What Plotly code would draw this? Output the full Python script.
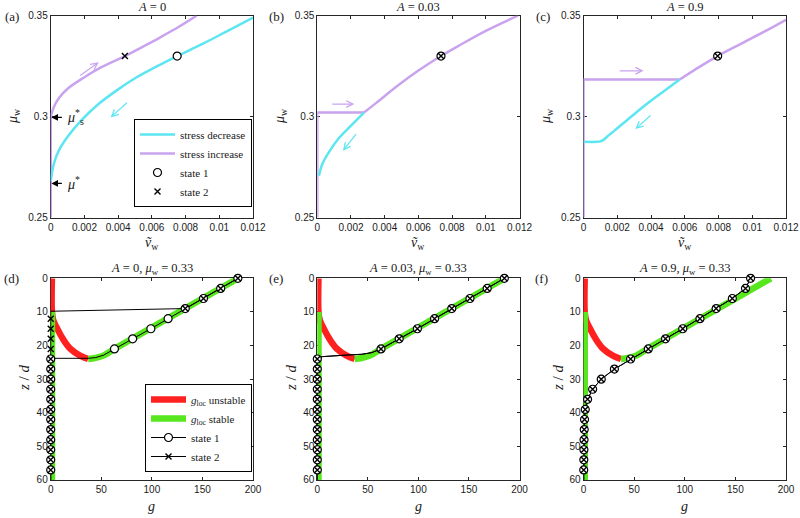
import plotly.graph_objects as go

# ================= DATA =================
# --- top row: mu_w versus v_w ---
a_inc_line_v, a_inc_line_mu = [0, 0], [0.25, 0.300]
a_inc_v = [0, 0.0002, 0.0005, 0.001, 0.002, 0.003, 0.0044, 0.0055, 0.0065, 0.0076, 0.00865]
a_inc_mu = [0.300, 0.305, 0.3093, 0.3138, 0.3195, 0.3245, 0.330, 0.3348, 0.3393, 0.3445, 0.350]
a_dec_v = [0, 0.0002, 0.0005, 0.001, 0.0018, 0.0028, 0.004, 0.005, 0.0062, 0.0075, 0.009, 0.0105, 0.012]
a_dec_mu = [0.268, 0.277, 0.2835, 0.290, 0.298, 0.306, 0.3135, 0.319, 0.3245, 0.330, 0.336, 0.3425, 0.349]
a_s1_v, a_s1_mu = [0.0075], [0.33]
a_s2_v, a_s2_mu = [0.0044], [0.33]

b_inc_line_v, b_inc_line_mu = [0, 0, 0.00277], [0.25, 0.302, 0.302]
b_inc_v = [0.00277, 0.0035, 0.0048, 0.006, 0.00734, 0.0085, 0.010, 0.0119]
b_inc_mu = [0.302, 0.3068, 0.3155, 0.3228, 0.330, 0.3356, 0.3425, 0.350]
b_dec_v = [0.00277, 0.002, 0.0013, 0.0007, 0.0003, 0.0001]
b_dec_mu = [0.302, 0.2955, 0.2895, 0.2825, 0.2765, 0.2707]
b_s1_v, b_s1_mu = [0.00734], [0.33]
b_s2_v, b_s2_mu = [0.00734], [0.33]

c_inc_line_v, c_inc_line_mu = [0, 0, 0.0057], [0.25, 0.3184, 0.3184]
c_inc_v = [0.0057, 0.0068, 0.00795, 0.0095, 0.0108, 0.012]
c_inc_mu = [0.3184, 0.3243, 0.330, 0.3368, 0.3425, 0.348]
c_dec_v = [0.0057, 0.0048, 0.0038, 0.0028, 0.0018, 0.0015, 0.0012, 0.001, 0.0008, 0]
c_dec_mu = [0.3184, 0.3128, 0.3066, 0.2998, 0.2928, 0.2908, 0.2886, 0.2877, 0.2875, 0.2875]
c_s1_v, c_s1_mu = [0.00795], [0.33]
c_s2_v, c_s2_mu = [0.00795], [0.33]

# --- bottom row: g versus z/d ---
gloc_unstable_g = [1.2, 1.2, 2.5, 6.5, 12, 19.5, 29, 37]
gloc_unstable_z = [0, 10, 12.5, 15, 18, 21, 23, 24]
gloc_stable_g = [1.2, 1.2, None, 37, 44, 52, 63, 185]
gloc_stable_z = [10, 60, None, 24, 23.7, 23.0, 21.0, 0]

marker_z = [0, 3, 6, 9, 12, 15, 18, 21, 24, 27, 30, 33, 36, 39, 42, 45, 48, 51, 54, 57]

d_s1_g = [185, 168, 151, 133, 116, 99, 81, 63, 52, 44, 37, 0, 0]
d_s1_z = [0, 3, 6, 9, 12, 15, 18, 21, 22.9, 23.6, 23.8, 23.8, 60]
d_s2_g = [185, 168, 151, 133, 0, 0]
d_s2_z = [0, 3, 6, 9, 9.8, 60]
d_s1_mk_g = [185, 168, 151, 133, 116, 99, 81, 63, 0, 0, 0, 0, 0, 0, 0, 0, 0, 0, 0, 0]
d_s2_mk_g = [185, 168, 151, 133, 0, 0, 0, 0, 0, 0, 0, 0, 0, 0, 0, 0, 0, 0, 0, 0]

e_line_g = [185, 168, 151, 133, 116, 99, 81, 63, 54, 44, 31, 15, 5, 1, 0, 0]
e_line_z = [0, 3, 6, 9, 12, 15, 18, 21, 22.1, 22.6, 22.8, 23.0, 23.3, 23.8, 24, 60]
e_mk_g = [185, 168, 151, 133, 116, 99, 81, 63, 0, 0, 0, 0, 0, 0, 0, 0, 0, 0, 0, 0]

f_line_g = [165, 160, 147, 131, 115, 98, 81, 64, 46.5, 30.5, 17.5, 9, 4, 1.7, 1, 0.7, 0.5, 0.4, 0.3, 0.2, 0.2]
f_line_z = [0, 3, 6, 9, 12, 15, 18, 21, 24, 27, 30, 33, 36, 39, 42, 45, 48, 51, 54, 57, 60]
f_mk_g = [165, 160, 147, 131, 115, 98, 81, 64, 46.5, 30.5, 17.5, 9, 4, 1.7, 1, 0.7, 0.5, 0.4, 0.3, 0.2]

top_xticks = [0, 0.002, 0.004, 0.006, 0.008, 0.01, 0.012]
top_xticktext = ["0", "0.002", "0.004", "0.006", "0.008", "0.01", "0.012"]
top_yticks = [0.25, 0.3, 0.35]
top_yticktext = ["0.25", "0.3", "0.35"]
bot_xticks = [0, 50, 100, 150, 200]
bot_yticks = [0, 10, 20, 30, 40, 50, 60]

top_titles = ["<i>A</i> = 0", "<i>A</i> = 0.03", "<i>A</i> = 0.9"]
bot_titles = ["<i>A</i> = 0, <i>μ</i><sub>w</sub> = 0.33",
              "<i>A</i> = 0.03, <i>μ</i><sub>w</sub> = 0.33",
              "<i>A</i> = 0.9, <i>μ</i><sub>w</sub> = 0.33"]
panel_labels = ["(a)", "(b)", "(c)", "(d)", "(e)", "(f)"]

# ================= STYLE =================
CYAN = "#5CE6F2"
PURPLE = "#C9A3EE"
RED = "#FF2020"
GREEN = "#58E61E"
SERIF = "Liberation Serif"
SANS = "Liberation Sans"
TXT = "#1a1a1a"

col_dom = [[0.0634, 0.3163], [0.3966, 0.6494], [0.7294, 0.9825]]
row_dom = [[0.5801, 0.9697], [0.0734, 0.4627]]

fig = go.Figure()


def ax(n):
    return ("x" if n == 1 else f"x{n}"), ("y" if n == 1 else f"y{n}")


def s1_marker():
    return dict(symbol="circle", size=8, color="white", line=dict(color="black", width=1.2))


def s2_marker():
    return dict(symbol="x-thin", size=6, color="black", line=dict(color="black", width=1.4))


# ---- top row traces ----
top_sets = [
    (a_inc_line_v, a_inc_line_mu, a_inc_v, a_inc_mu, a_dec_v, a_dec_mu, a_s1_v, a_s1_mu, a_s2_v, a_s2_mu),
    (b_inc_line_v, b_inc_line_mu, b_inc_v, b_inc_mu, b_dec_v, b_dec_mu, b_s1_v, b_s1_mu, b_s2_v, b_s2_mu),
    (c_inc_line_v, c_inc_line_mu, c_inc_v, c_inc_mu, c_dec_v, c_dec_mu, c_s1_v, c_s1_mu, c_s2_v, c_s2_mu),
]
for i, (lv, lm, iv, im, dv, dm, s1v, s1m, s2v, s2m) in enumerate(top_sets):
    xa, ya = ax(i + 1)
    show = (i == 0)
    fig.add_trace(go.Scatter(x=lv, y=lm, mode="lines", line=dict(color=PURPLE, width=2.5),
                             showlegend=False, xaxis=xa, yaxis=ya))
    fig.add_trace(go.Scatter(x=iv, y=im, mode="lines", line=dict(color=PURPLE, width=2.5, shape="spline"),
                             name="stress increase", showlegend=show, legend="legend", legendrank=2,
                             xaxis=xa, yaxis=ya))
    fig.add_trace(go.Scatter(x=dv, y=dm, mode="lines", line=dict(color=CYAN, width=2.5, shape="spline"),
                             name="stress decrease", showlegend=show, legend="legend", legendrank=1,
                             xaxis=xa, yaxis=ya))
    fig.add_trace(go.Scatter(x=s1v, y=s1m, mode="markers", marker=s1_marker(), cliponaxis=False,
                             name="state 1", showlegend=show, legend="legend", legendrank=3,
                             xaxis=xa, yaxis=ya))
    fig.add_trace(go.Scatter(x=s2v, y=s2m, mode="markers", marker=s2_marker(), cliponaxis=False,
                             name="state 2", showlegend=show, legend="legend", legendrank=4,
                             xaxis=xa, yaxis=ya))

# ---- bottom row traces ----
bot_sets = [
    (d_s1_g, d_s1_z, d_s2_g, d_s2_z, d_s1_mk_g, d_s2_mk_g),
    (e_line_g, e_line_z, e_line_g, e_line_z, e_mk_g, e_mk_g),
    (f_line_g, f_line_z, f_line_g, f_line_z, f_mk_g, f_mk_g),
]
for i, (l1g, l1z, l2g, l2z, m1g, m2g) in enumerate(bot_sets):
    xa, ya = ax(i + 4)
    fig.add_trace(go.Scatter(x=gloc_unstable_g, y=gloc_unstable_z, mode="lines",
                             line=dict(color=RED, width=6.5, shape="spline"), showlegend=False,
                             xaxis=xa, yaxis=ya))
    fig.add_trace(go.Scatter(x=gloc_stable_g, y=gloc_stable_z, mode="lines",
                             line=dict(color=GREEN, width=6.5, shape="spline"), showlegend=False,
                             xaxis=xa, yaxis=ya))
    fig.add_trace(go.Scatter(x=l1g, y=l1z, mode="lines", line=dict(color="black", width=1),
                             showlegend=False, xaxis=xa, yaxis=ya))
    fig.add_trace(go.Scatter(x=l2g, y=l2z, mode="lines", line=dict(color="black", width=1),
                             showlegend=False, xaxis=xa, yaxis=ya))
    fig.add_trace(go.Scatter(x=m1g, y=marker_z, mode="markers", marker=s1_marker(), cliponaxis=False,
                             showlegend=False, xaxis=xa, yaxis=ya))
    fig.add_trace(go.Scatter(x=m2g, y=marker_z, mode="markers", marker=s2_marker(), cliponaxis=False,
                             showlegend=False, xaxis=xa, yaxis=ya))

# legend entries for bottom row (legend-only samples)
fig.add_trace(go.Scatter(x=[None], y=[None], mode="lines", line=dict(color=RED, width=6.5),
                         name="<i>g</i><sub>loc</sub> unstable", legend="legend2", legendrank=1,
                         xaxis="x4", yaxis="y4"))
fig.add_trace(go.Scatter(x=[None], y=[None], mode="lines", line=dict(color=GREEN, width=6.5),
                         name="<i>g</i><sub>loc</sub> stable", legend="legend2", legendrank=2,
                         xaxis="x4", yaxis="y4"))
fig.add_trace(go.Scatter(x=[None], y=[None], mode="lines+markers", line=dict(color="black", width=1),
                         marker=s1_marker(), name="state 1", legend="legend2", legendrank=3,
                         xaxis="x4", yaxis="y4"))
fig.add_trace(go.Scatter(x=[None], y=[None], mode="lines+markers", line=dict(color="black", width=1),
                         marker=s2_marker(), name="state 2", legend="legend2", legendrank=4,
                         xaxis="x4", yaxis="y4"))

# ---- axes ----
common = dict(showline=True, mirror="ticks", linecolor="#262626", linewidth=1, ticks="inside",
              ticklen=3, tickcolor="#262626", showgrid=False, zeroline=False, automargin=False,
              layer="below traces", tickfont=dict(family=SANS, size=10, color=TXT))
layout = {}
for r in range(2):
    for c in range(3):
        n = r * 3 + c + 1
        kx = "xaxis" if n == 1 else f"xaxis{n}"
        ky = "yaxis" if n == 1 else f"yaxis{n}"
        if r == 0:
            layout[kx] = dict(common, domain=col_dom[c], range=[0, 0.012], tickvals=top_xticks,
                              ticktext=top_xticktext, anchor=ax(n)[1])
            layout[ky] = dict(common, domain=row_dom[0], range=[0.25, 0.35], tickvals=top_yticks,
                              ticktext=top_yticktext, anchor=ax(n)[0])
        else:
            layout[kx] = dict(common, domain=col_dom[c], range=[0, 200], tickvals=bot_xticks,
                              anchor=ax(n)[1])
            layout[ky] = dict(common, domain=row_dom[1], range=[60, 0], tickvals=bot_yticks,
                              anchor=ax(n)[0])

# ---- annotations ----
ann = []


def ptext(text, px, py, size, angle=0):
    return dict(text=text, x=px / 800, y=1 - py / 518, xref="paper", yref="paper", showarrow=False,
                xanchor="center", yanchor="middle", textangle=angle,
                font=dict(family=SERIF, size=size, color=TXT))


col_px = [(d[0] + d[1]) / 2 * 800 for d in col_dom]
for c in range(3):
    ann.append(ptext(top_titles[c], col_px[c], 7, 12.5))
    ann.append(ptext(bot_titles[c], col_px[c], 269, 12.5))
    ann.append(ptext("<i>ṽ</i><sub>w</sub>", col_px[c], 243, 14))
    ann.append(ptext("<i>g</i>", col_px[c], 506, 14))

ylab_top_x = [13, 280, 546]
ylab_bot_x = [24, 291, 558]
for c in range(3):
    ann.append(ptext("<i>μ</i><sub>w</sub>", ylab_top_x[c], 116, 14, -90))
    ann.append(ptext("<i>z</i> / <i>d</i>", ylab_bot_x[c], 378, 15, -90))

lab_pos = [(12, 16), (276, 16), (543, 16), (11, 278), (276, 278), (541, 278)]
for lab, (px, py) in zip(panel_labels, lab_pos):
    ann.append(ptext(lab, px, py, 13))

# direction arrows (tail -> head) in data coords
arrows = [
    (1, PURPLE, (0.00166, 0.3199), (0.00285, 0.3269)),
    (1, CYAN, (0.00461, 0.3075), (0.00355, 0.2996)),
    (2, PURPLE, (0.0008, 0.3062), (0.0022, 0.3062)),
    (2, CYAN, (0.00238, 0.2921), (0.00152, 0.2831)),
    (3, PURPLE, (0.00206, 0.3227), (0.00356, 0.3227)),
    (3, CYAN, (0.00406, 0.3012), (0.00307, 0.2938)),
]
for n, col, tail, head in arrows:
    xa, ya = ax(n)
    ann.append(dict(x=head[0], y=head[1], ax=tail[0], ay=tail[1], xref=xa, yref=ya, axref=xa,
                    ayref=ya, text="", showarrow=True, arrowhead=5, arrowsize=1.1, arrowwidth=1.2,
                    arrowcolor=col))

# mu* markers in panel (a)
for tipy, txt in [(0.2996, "<i>μ</i><sup>*</sup><sub>s</sub>"), (0.2669, "<i>μ</i><sup>*</sup>")]:
    ann.append(dict(x=0.00004, y=tipy, ax=0.00075, ay=tipy, xref="x", yref="y", axref="x", ayref="y",
                    text="", showarrow=True, arrowhead=2, arrowsize=1.1, arrowwidth=1.2,
                    arrowcolor="black"))
    ann.append(dict(x=0.00085, y=tipy, xref="x", yref="y", text=txt, showarrow=False, xanchor="left",
                    yanchor="middle", font=dict(family=SERIF, size=14, color=TXT)))

leg_common = dict(bordercolor="black", borderwidth=1, bgcolor="white", xanchor="right",
                  yanchor="bottom", font=dict(family=SERIF, size=11, color=TXT), itemwidth=35,
                  tracegroupgap=0)
fig.update_layout(
    width=800, height=518, margin=dict(l=0, r=0, t=0, b=0),
    paper_bgcolor="white", plot_bgcolor="white",
    annotations=ann,
    legend=dict(leg_common, x=252 / 800, y=1 - 207 / 518),
    legend2=dict(leg_common, x=252 / 800, y=1 - 472 / 518),
    **layout,
)

fig.write_html("out.html", config={"displayModeBar": False},
               post_script="document.body.style.margin='0px';")
